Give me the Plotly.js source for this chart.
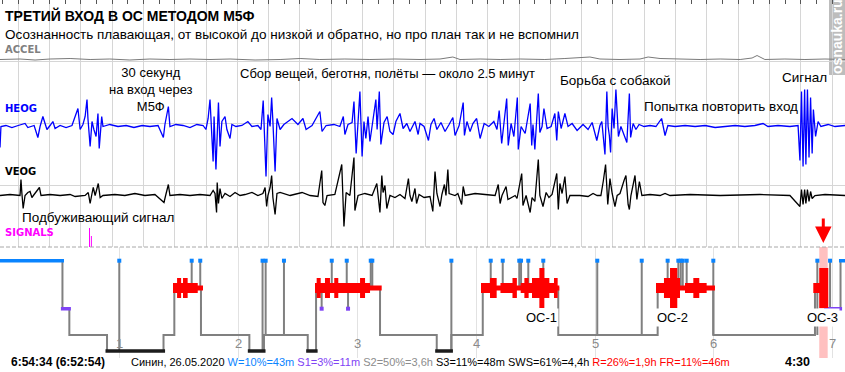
<!DOCTYPE html>
<html><head><meta charset="utf-8">
<script src="https://cdn.plot.ly/plotly-3.0.1.min.js"></script>
<style>html,body{margin:0;padding:0;background:#fff}#chart{width:845px;height:372px}</style>
</head><body><div id="chart"></div>
<script>
// ---------- DATA ----------
// EEG window: seconds (4:30 window). Values = deflection (arbitrary units, up positive)
const heogSamples = [[0,-21],[0.3,0],[1.9,1],[3.8,-1],[5.8,1],[8.0,3],[8.9,-1],[10.9,1],[12.1,-11],[12.8,0],[13.7,10],[14.4,4],[15.0,-3],[16.0,1],[16.9,5],[17.6,-2],[19.2,1],[21.1,-1],[23.0,1],[24.9,18],[25.6,-3],[26.5,2],[27.2,10],[27.8,27],[28.1,8],[28.8,-20],[29.4,5],[30.0,-3],[30.7,-10],[31.3,13],[31.7,-22],[32.5,10],[32.9,0],[35.1,2],[37.7,0],[40.3,1],[42.8,-1],[45.4,1],[47.9,0],[50.5,1],[52.2,-11],[52.7,2],[53.8,20],[54.3,0],[56.2,2],[58.5,1],[60.7,-1],[62.9,2],[64.9,1],[65.8,-3],[66.5,8],[67.1,27],[68.1,-35],[68.4,10],[69.0,-43],[69.8,24],[70.3,-20],[70.9,5],[71.9,10],[72.5,-3],[73.5,-12],[74.1,2],[75.4,0],[77.3,1],[79.2,5],[80.5,0],[82.4,1],[83.4,-3],[84.1,26],[85.0,-50],[85.6,12],[86.3,0],[86.8,29],[87.2,5],[87.9,-45],[88.5,8],[89.5,-3],[90.7,2],[93.3,8],[95.2,2],[96.8,8],[97.8,-3],[99.7,1],[102.2,15],[102.9,-5],[104.2,1],[106.7,2],[108.6,0],[109.7,10],[110.2,-8],[111.2,2],[112.5,4],[113.1,25],[113.8,-27],[114.4,5],[115.0,35],[115.7,-30],[116.3,5],[116.9,-12],[117.6,10],[118.2,-15],[119.2,8],[120.1,27],[120.5,-3],[121.2,35],[121.7,-18],[122.7,4],[123.7,10],[124.6,-5],[125.6,-8],[126.5,5],[127.8,13],[128.8,-2],[130.0,3],[131.0,-5],[132.6,5],[133.6,-8],[134.2,3],[135.5,0],[136.9,-14],[137.7,2],[138.7,8],[139.6,-3],[140.9,4],[142.2,-5],[143.5,2],[144.7,9],[145.4,-9],[146.7,1],[148.0,24],[148.4,-9],[149.2,5],[150.2,-5],[151.1,3],[152.3,8],[153.4,-12],[154.7,3],[156.2,0],[157.8,5],[158.8,-3],[159.5,16],[160.3,-17],[161.0,2],[161.9,28],[162.4,-19],[163.3,3],[164.2,-10],[165.3,29],[165.6,-23],[166.5,0],[167.8,-7],[169.4,23],[169.9,-19],[170.3,2],[170.9,-23],[172.0,33],[172.5,-6],[173.2,0],[173.8,18],[174.8,-2],[176.1,0],[177.3,13],[177.9,-14],[178.4,15],[179.3,-2],[180.5,13],[181.5,0],[182.8,3],[184.4,-4],[186.3,2],[187.9,-3],[189.2,4],[190.7,-14],[191.7,1],[192.3,5],[192.8,-14],[193.3,-28],[193.9,35],[194.3,0],[194.7,-9],[195.1,-26],[195.6,18],[196.2,-2],[196.8,37],[197.2,10],[197.6,-10],[198.4,0],[199.4,-8],[200.3,-16],[201.1,33],[201.5,-11],[202.3,3],[203.2,-3],[204.2,2],[205.8,0],[207.7,1],[209.6,0],[211.4,8],[212.5,-9],[213.4,1],[215.7,0],[218.9,1],[222.1,0],[225.3,1],[228.5,-1],[231.7,0],[234.9,1],[238.0,0],[241.2,1],[243.8,3],[245.4,0],[248.6,1],[252.4,0],[255.0,1],[255.6,-34],[256.1,35],[256.6,-40],[257.1,37],[257.5,-38],[258.0,37],[258.5,-31],[259.0,29],[259.5,-27],[259.9,17],[260.6,-10],[261.4,5],[262.3,0],[264.6,2],[266.8,0],[270.0,1]];

const veogSamples = [[0,0],[3.2,1],[6.4,0],[6.7,16],[7.0,2],[7.4,-13],[8.0,0],[8.9,3],[9.6,4],[10.2,-2],[10.9,1],[12.6,8],[13.1,0],[16.0,1],[19.2,0],[22.4,1],[24.0,-1],[27.2,0],[28.2,3],[28.8,-8],[29.4,2],[29.8,8],[30.4,0],[31.4,12],[32.0,-2],[32.9,0],[36.7,1],[39.9,0],[43.1,2],[46.3,0],[49.5,1],[52.4,-7],[53.0,1],[53.8,11],[54.3,0],[57.5,1],[60.7,0],[63.9,1],[67.1,0],[68.1,5],[68.7,2],[69.2,-17],[69.4,13],[69.8,-8],[70.3,7],[70.9,-3],[71.9,2],[73.5,-1],[75.1,3],[76.7,0],[78.3,1],[80.5,3],[82.4,0],[84.0,2],[84.7,8],[85.2,-11],[85.6,0],[86.3,8],[86.8,20],[87.2,-2],[87.9,-19],[88.5,2],[89.5,3],[92.7,0],[96.5,3],[99.1,0],[101.6,-1],[102.8,25],[103.2,-7],[103.8,-10],[104.5,0],[107.0,1],[109.2,31],[109.9,-31],[110.6,3],[111.8,0],[113.1,38],[113.4,-15],[114.4,0],[116.6,2],[118.9,0],[120.4,12],[121.4,-17],[122.0,20],[122.4,3],[123.0,10],[123.6,-13],[124.6,0],[126.2,-2],[127.8,1],[129.4,-3],[130.5,17],[131.0,0],[131.6,-6],[132.6,7],[133.1,-8],[133.9,1],[135.5,-2],[137.4,-1],[138.3,-16],[139.0,24],[139.6,2],[140.6,-11],[141.2,1],[142.0,11],[142.5,0],[143.1,26],[143.5,2],[145.4,0],[146.3,2],[147.5,-9],[148.0,9],[148.6,0],[151.8,2],[155.0,1],[158.2,0],[159.2,11],[159.8,-8],[160.4,0],[161.7,9],[162.3,-4],[164.6,0],[165.2,-3],[166.7,22],[167.1,-10],[168.1,0],[169.4,-17],[170.0,-2],[170.9,-6],[172.0,36],[172.5,0],[173.5,-11],[174.5,3],[175.4,-2],[176.4,1],[177.9,22],[178.4,-14],[178.9,12],[179.6,2],[180.0,9],[180.5,19],[181.2,-8],[182.1,0],[183.7,0],[185.3,0],[187.9,-1],[189.5,2],[190.8,0],[192.0,0],[192.8,15],[193.5,31],[194.2,-9],[194.9,17],[195.6,2],[196.5,-11],[197.2,0],[198.1,2],[199.4,15],[200.0,20],[200.7,-9],[201.1,-14],[201.6,0],[202.9,20],[203.5,-4],[204.3,14],[205.1,0],[207.7,1],[210.9,0],[212.5,2],[214.1,0],[220.5,1],[230.1,0],[242.8,1],[252.4,0],[255.6,-11],[256.1,6],[256.6,-9],[257.1,6],[257.5,-8],[258.0,6],[258.5,-6],[259.0,4],[259.5,-3],[260.4,0],[263.6,1],[270.0,0]];

const accelSamples = [[0,0],[6.4,0.5],[11.2,-0.5],[16.0,0.5],[22.4,1],[28.8,0],[35.1,0.5],[41.5,-0.5],[47.9,0.5],[54.3,0],[60.7,0.5],[67.1,0],[73.5,0.5],[81.5,-0.5],[89.5,0],[95.9,1],[102.2,0],[110.2,0.5],[118.2,0],[126.2,0.5],[134.2,0],[140.6,0.5],[144.7,2.5],[147.0,0],[153.4,0.5],[159.8,0],[166.2,0.5],[174.1,0],[180.5,1],[188.5,2.5],[191.7,0.5],[198.1,0],[204.5,0.5],[207.1,2.5],[210.9,1],[217.3,0.5],[223.7,0],[230.1,0.5],[236.5,0],[240.3,1.5],[241.9,4],[244.4,0],[250.8,0.5],[257.2,0],[263.6,0.5],[270.0,0]];

// SIGNALS channel: two marker pulses (seconds, amplitude)
const signalT = [28.6, 29.2];
const signalV = [19, 11];

// Hypnogram (hours from start)
const hypTime  = [0, 0.521, 0.579, 0.896, 1.371, 1.462, 1.686, 2.093, 2.216, 2.584, 2.654, 3.192, 3.669, 3.792, 4.056, 4.691, 5.527, 5.995, 6.850, 6.940, 7.065];
const hypStage = ['W','S1','S2','S3','S2','R','S2','S3','S2','S3','R','S2','S3','S2','R','S2','R','S2','R','S1','W'];
const hypEnd = 7.095;

// REM eye-movement density blocks: start, end (hours), intensity level 1..4
const remStart = [1.451,1.485,1.519,1.535,1.574,1.659, 2.645,2.659,2.693,2.729,2.771,2.807,2.841,3.024,3.066,3.108, 4.041,4.117,4.173,4.205,4.306,4.343,4.375,4.406,4.442,4.470,4.532,4.574,4.616,4.655,4.686, 5.513,5.580,5.631,5.692,5.715,5.757,5.827,5.877,5.939, 6.836,6.886];
const remEnd   = [1.485,1.519,1.535,1.574,1.659,1.703, 2.659,2.693,2.729,2.771,2.807,2.841,3.024,3.066,3.108,3.206, 4.117,4.173,4.205,4.306,4.343,4.375,4.406,4.442,4.470,4.532,4.574,4.616,4.655,4.686,4.700, 5.580,5.631,5.692,5.715,5.757,5.827,5.877,5.939,6.009, 6.886,6.962];
const remLevel = [2,3,2,3,2,1, 2,3,2,3,2,3,2,3,2,1, 2,3,1,2,3,1,2,3,2,3,4,3,2,3,1, 2,3,4,3,1,2,3,2,1, 2,4];

// brief awakenings (hours) and the stage they interrupt
const wakeTime = [0.999,1.608,1.680,2.204,2.230,2.384,2.786,2.912,3.114,3.127,3.792,4.123,4.224,4.363,4.378,4.439,4.565,5.019,5.393,5.611,5.701,5.721,5.738,5.771,5.995,6.870,6.977];
const wakeFrom = ['S3','R','R','S3','S2','S2','R','R','R','R','S3','R','R','R','R','R','R','S2','S2','R','R','R','R','R','S2','S2','S1'];
// brief S1 dips during REM
const s1DipTime = [2.701, 2.923];

const hourTicks = [1,2,3,4,5,6,7];
const ocNames = ['ОС-1','ОС-2','ОС-3'];
const ocHour  = [4.546, 5.648, 6.912];
const highlightStart = [6.886];
const highlightEnd   = [6.957];
const arrowHour = 6.920;

// ---------- STYLE / LAYOUT CONSTANTS ----------
const W = 845, H = 372;
const stageLevel = {W:13.7, R:41, S1:61.7, S2:88, S3:104};
const stageColor = {W:'#0a84ff', S1:'#7f44f5', S3:'#1c1c1c'};
const remHalf = [0, 2.4, 5, 10, 20];
const barHalf = 1.7, barPad = 0.013;
const px = (x,y) => ({x: x/W, y: 1 - y/H});
const FONT = 'Liberation Sans, Arial, sans-serif';

// ---------- TRACES ----------
const traces = [];
traces.push({x: accelSamples.map(d=>d[0]), y: accelSamples.map(d=>d[1]), xaxis:'x', yaxis:'y3', mode:'lines', line:{color:'#7a7a7a', width:1}, hoverinfo:'skip'});
traces.push({x: heogSamples.map(d=>d[0]), y: heogSamples.map(d=>d[1]), xaxis:'x', yaxis:'y', mode:'lines', line:{color:'#0000ff', width:1.3}, hoverinfo:'skip'});
traces.push({x: veogSamples.map(d=>d[0]), y: veogSamples.map(d=>d[1]), xaxis:'x', yaxis:'y2', mode:'lines', line:{color:'#000000', width:1.3}, hoverinfo:'skip'});
{
  const sx=[], sy=[];
  signalT.forEach((t,i)=>{ sx.push(t,t,null); sy.push(0,signalV[i],null); });
  traces.push({x:sx, y:sy, xaxis:'x', yaxis:'y4', mode:'lines', line:{color:'#ff00ff', width:1}, hoverinfo:'skip'});
}

// hypnogram step line
{
  const xs = hypTime.concat([hypEnd]);
  const ys = hypStage.map(s=>stageLevel[s]).concat([stageLevel[hypStage[hypStage.length-1]]]);
  traces.push({x:xs, y:ys, xaxis:'x2', yaxis:'y5', mode:'lines', line:{color:'#808080', width:2, shape:'hv'}, hoverinfo:'skip'});
}
// awakening and S1 dip lines
{
  const lx=[], ly=[];
  wakeTime.forEach((t,i)=>{ lx.push(t,t,null); ly.push(stageLevel[wakeFrom[i]], stageLevel.W, null); });
  s1DipTime.forEach(t=>{ lx.push(t,t,null); ly.push(stageLevel.R, stageLevel.S1, null); });
  traces.push({x:lx, y:ly, xaxis:'x2', yaxis:'y5', mode:'lines', line:{color:'#808080', width:2}, hoverinfo:'skip'});
}
// coloured stage bars (W, S1, S3)
function rectTrace(segs, color){
  const x=[], y=[];
  segs.forEach(s=>{ x.push(s[0],s[1],s[1],s[0],s[0],null); y.push(s[2],s[2],s[3],s[3],s[2],null); });
  return {x, y, xaxis:'x2', yaxis:'y5', mode:'none', fill:'toself', fillcolor:color, hoverinfo:'skip'};
}
['W','S1','S3'].forEach(st=>{
  const segs=[];
  hypStage.forEach((s,i)=>{
    if(s!==st) return;
    const a = hypTime[i]-barPad, b = (i+1<hypTime.length? hypTime[i+1] : hypEnd)+barPad;
    segs.push([a,b,stageLevel[s]-barHalf, stageLevel[s]+barHalf]);
  });
  traces.push(rectTrace(segs, stageColor[st]));
});
// REM blocks
{
  const segs = remStart.map((a,i)=>[a, remEnd[i], stageLevel.R-remHalf[remLevel[i]], stageLevel.R+remHalf[remLevel[i]]]);
  traces.push(rectTrace(segs, '#ff0000'));
}
// markers
traces.push({x: wakeTime, y: wakeTime.map(()=>stageLevel.W), xaxis:'x2', yaxis:'y5', mode:'markers', marker:{symbol:'square', size:4, color:stageColor.W}, hoverinfo:'skip'});
traces.push({x: s1DipTime, y: s1DipTime.map(()=>stageLevel.S1), xaxis:'x2', yaxis:'y5', mode:'markers', marker:{symbol:'square', size:4, color:stageColor.S1}, hoverinfo:'skip'});

// ---------- ANNOTATIONS ----------
const ann = [];
function txt(text, x, y, opt){
  const p = px(x,y);
  ann.push(Object.assign({xref:'paper', yref:'paper', x:p.x, y:p.y, text, showarrow:false, xanchor:'left', yanchor:'middle', borderpad:0,
    font:{family:FONT, size:13, color:'#000'}}, opt||{}));
}
txt('<b>ТРЕТИЙ ВХОД В ОС МЕТОДОМ М5Ф</b>', 4, 16, {font:{family:FONT, size:14, color:'#000'}});
txt('Осознанность плавающая, от высокой до низкой и обратно, но про план так и не вспомнил', 4, 34.5, {font:{family:FONT, size:13.5, color:'#000'}});
const chFont = c => ({family:'DejaVu Sans, Verdana, sans-serif', size:10, color:c});
txt('<b>ACCEL</b>', 4, 49.5, {font:chFont('#808080')});
txt('<b>HEOG</b>', 4, 109, {font:chFont('#0000ff')});
txt('<b>VEOG</b>', 4, 171, {font:chFont('#000000')});
txt('<b>SIGNALS</b>', 4, 232.5, {font:chFont('#ff00ff')});
txt('30 секунд<br>на вход через<br>М5Ф', 151, 89.5, {xanchor:'center', align:'center'});
txt('Сбор вещей, беготня, полёты — около 2.5 минут', 239, 73);
txt('Борьба с собакой', 559, 80, {font:{family:FONT, size:13.5, color:'#000'}});
txt('Попытка повторить вход', 643, 106.5, {font:{family:FONT, size:13.5, color:'#000'}});
txt('Сигнал', 781, 77.5, {font:{family:FONT, size:13.5, color:'#000'}});
txt('Подбуживающий сигнал', 21, 217.5, {font:{family:FONT, size:13.5, color:'#000'}});
txt('<b>6:54:34 (6:52:54)</b>', 10, 362, {font:{family:FONT, size:12, color:'#000'}});
txt('Синин, 26.05.2020 <span style="color:#0a84ff">W=10%=43m</span> <span style="color:#7f44f5">S1=3%=11m</span> <span style="color:#8c8c8c">S2=50%=3,6h</span> S3=11%=48m SWS=61%=4,4h <span style="color:#ff0000">R=26%=1,9h FR=11%=46m</span>', 130, 362, {font:{family:FONT, size:11, color:'#000'}});
txt('<b>4:30</b>', 784, 362, {font:{family:FONT, size:12.5, color:'#000'}});
// watermark
txt('<b>osnauka.ru</b>', 837, 37, {xanchor:'center', textangle:-90, font:{family:FONT, size:14, color:'#ffffff'}});

// hypnogram labels
hourTicks.forEach(h=>ann.push({xref:'x2', yref:'y5', x:h, y:96.5, text:String(h), showarrow:false, xanchor:'center', yanchor:'middle',
  font:{family:FONT, size:13, color:'#8a8a8a'}}));
ocNames.forEach((n,i)=>ann.push({xref:'x2', yref:'y5', x:ocHour[i], y:70.5, text:n, showarrow:false, xanchor:'center', yanchor:'middle',
  bgcolor:'#ffffff', borderpad:1, font:{family:FONT, size:13, color:'#000'}}));
ann.push({xref:'x2', yref:'paper', x:arrowHour, y:1-243/H, ax:0, ay:-26, text:'', showarrow:true, arrowhead:2, arrowsize:1.1, arrowwidth:3, arrowcolor:'#ff0000'});

// ---------- SHAPES ----------
const shapes = [
  {type:'rect', xref:'paper', yref:'paper', x0:829/W, x1:1, y0:1-75/H, y1:1, fillcolor:'#bdbdbd', line:{width:0}, layer:'below'},
  {type:'line', xref:'paper', yref:'paper', x0:0, x1:1, y0:1-247/H, y1:1-247/H, line:{color:'#a8a8a8', width:1, dash:'4px,2px'}},
];
highlightStart.forEach((a,i)=>shapes.push({type:'rect', xref:'x2', yref:'y5', x0:a, x1:highlightEnd[i], y0:0, y1:111, fillcolor:'#ffc0c0', line:{width:0}, layer:'below'}));

// ---------- LAYOUT ----------
const upperDomain = [1-247/H, 1];
const layout = {
  width: W, height: H, margin:{l:0,r:0,t:0,b:0}, paper_bgcolor:'#ffffff', plot_bgcolor:'rgba(0,0,0,0)',
  showlegend:false, hovermode:false, barmode:'overlay',
  xaxis:{domain:[0,1], range:[0,270], anchor:'y', side:'top', showgrid:true, gridcolor:'#d6d6d6', gridwidth:1,
         tick0:5.85, dtick:10, ticks:'inside', ticklen:4, tickcolor:'#555', showticklabels:false, zeroline:false, showline:false,
         minor:{tick0:0.85, dtick:5, ticks:'inside', ticklen:4, tickcolor:'#555', showgrid:false}},
  yaxis:{domain:upperDomain, range:[-120.5,126.5], visible:false, fixedrange:true},
  yaxis2:{overlaying:'y', range:[-51.5,195.5], visible:false},
  yaxis3:{overlaying:'y', range:[-187.5,59.5], visible:false},
  yaxis4:{overlaying:'y', range:[0,247], showgrid:true, gridcolor:'#d6d6d6', tick0:0, dtick:61.75, showticklabels:false, ticks:'', zeroline:false, showline:false},
  xaxis2:{domain:[0,1], range:[-0.0042,7.1026], anchor:'y5', tickvals:hourTicks, showgrid:true, gridcolor:'#e2e2e2', showticklabels:false, ticks:'', zeroline:false, showline:false},
  yaxis5:{domain:[1-358/H, 1-247/H], range:[111,0], anchor:'x2', visible:false},
  annotations: ann, shapes: shapes
};
Plotly.newPlot('chart', traces, layout, {staticPlot:true, displayModeBar:false});
</script></body></html>
